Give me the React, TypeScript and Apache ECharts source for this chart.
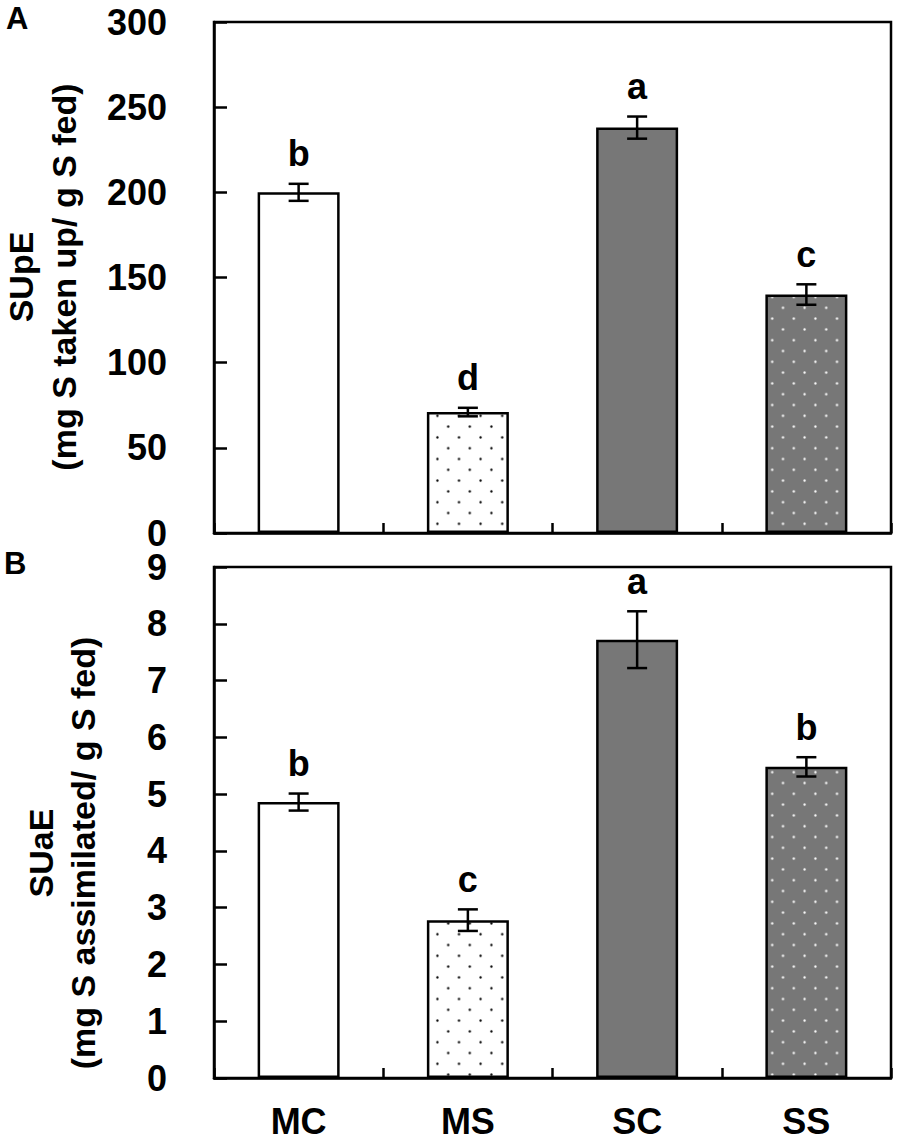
import React, { useEffect, useRef } from "react";
import * as echarts from "echarts";

const categories = ["MC", "MS", "SC", "SS"];

const supeMean = [200, 71, 238, 140];
const supeErr = [5, 2.5, 6.5, 6];
const supeLetters = ["b", "d", "a", "c"];

const suaeMean = [4.86, 2.78, 7.72, 5.48];
const suaeErr = [0.15, 0.19, 0.5, 0.17];
const suaeLetters = ["b", "c", "a", "b"];

const FONT = "'Liberation Sans', Arial, Helvetica, sans-serif";
const LW = 2.5;

function dotPattern(bg: string, dot: string) {
  const s = 21.6;
  const h = s / 2;
  const svg =
    `<svg xmlns="http://www.w3.org/2000/svg" width="${s}" height="${s}">` +
    `<rect width="${s}" height="${s}" fill="${bg}"/>` +
    `<circle cx="${h / 2}" cy="${h / 2}" r="1.15" fill="${dot}"/>` +
    `<circle cx="${h / 2 + h}" cy="${h / 2 + h}" r="1.15" fill="${dot}"/>` +
    `</svg>`;
  return {
    image: "data:image/svg+xml;charset=utf-8," + encodeURIComponent(svg),
    repeat: "repeat",
    imageWidth: s,
    imageHeight: s,
  } as any;
}

const GRAY = "#777777";
const fills = [
  "#ffffff",
  dotPattern("#ffffff", "#000000"),
  GRAY,
  dotPattern(GRAY, "#ffffff"),
];

function barSeries(mean: number[], idx: number) {
  return {
    type: "bar",
    xAxisIndex: idx,
    yAxisIndex: idx,
    barWidth: 82,
    data: mean.map((v, i) => ({
      value: v,
      itemStyle: { color: fills[i], borderColor: "#000", borderWidth: LW },
    })),
    z: 2,
  };
}

function errSeries(mean: number[], err: number[], letters: string[], idx: number) {
  return {
    type: "custom",
    xAxisIndex: idx,
    yAxisIndex: idx,
    z: 5,
    data: mean.map((m, i) => [i, m, err[i]]),
    renderItem: (params: any, api: any) => {
      const i = api.value(0);
      const m = api.value(1);
      const e = api.value(2);
      const top = api.coord([i, m + e]);
      const bot = api.coord([i, m - e]);
      const x = top[0];
      const hw = 10;
      const st = { stroke: "#000", lineWidth: LW };
      return {
        type: "group",
        children: [
          { type: "line", shape: { x1: x, y1: top[1], x2: x, y2: bot[1] }, style: st },
          { type: "line", shape: { x1: x - hw, y1: top[1], x2: x + hw, y2: top[1] }, style: st },
          { type: "line", shape: { x1: x - hw, y1: bot[1], x2: x + hw, y2: bot[1] }, style: st },
          {
            type: "text",
            x: x,
            y: top[1] - 30,
            style: {
              text: letters[params.dataIndex],
              textAlign: "center",
              textVerticalAlign: "middle",
              fontSize: 36,
              fontWeight: "bold",
              fontFamily: FONT,
              fill: "#000",
            },
          },
        ],
      };
    },
  };
}

function xAxisCfg(idx: number, showLabel: boolean) {
  return {
    gridIndex: idx,
    type: "category",
    data: categories,
    boundaryGap: true,
    axisLine: { show: true, lineStyle: { color: "#000", width: LW } },
    axisTick: { show: true, inside: true, length: 10, lineStyle: { color: "#000", width: LW } },
    axisLabel: {
      show: showLabel,
      fontSize: 36,
      fontWeight: "bold",
      color: "#000",
      fontFamily: FONT,
      margin: 25,
    },
    splitLine: { show: false },
  };
}

function yAxisCfg(idx: number, max: number, interval: number) {
  return {
    gridIndex: idx,
    type: "value",
    min: 0,
    max: max,
    interval: interval,
    axisLine: { show: true, lineStyle: { color: "#000", width: LW } },
    axisTick: { show: true, inside: true, length: 13, lineStyle: { color: "#000", width: LW } },
    axisLabel: {
      fontSize: 36,
      fontWeight: "bold",
      color: "#000",
      fontFamily: FONT,
      margin: 47,
    },
    splitLine: { show: false },
  };
}

function rotText(text: string, x: number, y: number, size: number) {
  return {
    type: "text",
    x,
    y,
    rotation: Math.PI / 2,
    style: {
      text,
      textAlign: "center",
      textVerticalAlign: "middle",
      fontSize: size,
      fontWeight: "bold",
      fontFamily: FONT,
      fill: "#000",
    },
  };
}

function plainText(text: string, x: number, y: number, size: number) {
  return {
    type: "text",
    x,
    y,
    style: {
      text,
      textAlign: "left",
      textVerticalAlign: "middle",
      fontSize: size,
      fontWeight: "bold",
      fontFamily: FONT,
      fill: "#000",
    },
  };
}

export default function App() {
  const ref = useRef<HTMLDivElement>(null);
  useEffect(() => {
    if (!ref.current) return;
    const chart = echarts.init(ref.current, undefined, { renderer: "svg" });
    const gridBase = {
      left: 214,
      width: 677,
      height: 511,
      show: true,
      borderColor: "#000",
      borderWidth: LW,
      backgroundColor: "transparent",
      containLabel: false,
    };
    chart.setOption({
      animation: false,
      backgroundColor: "#ffffff",
      textStyle: { fontFamily: FONT },
      grid: [
        { ...gridBase, top: 22 },
        { ...gridBase, top: 567 },
      ],
      xAxis: [xAxisCfg(0, false), xAxisCfg(1, true)],
      yAxis: [yAxisCfg(0, 300, 50), yAxisCfg(1, 9, 1)],
      series: [
        barSeries(supeMean, 0),
        errSeries(supeMean, supeErr, supeLetters, 0),
        barSeries(suaeMean, 1),
        errSeries(suaeMean, suaeErr, suaeLetters, 1),
      ],
      graphic: [
        plainText("A", 6, 18, 31),
        plainText("B", 4, 563, 31),
        rotText("SUpE", 21, 277, 34),
        rotText("(mg S taken up/ g S fed)", 64, 277, 34),
        rotText("SUaE", 41, 853, 34),
        rotText("(mg S assimilated/ g S fed)", 83, 853, 34),
      ],
    });
    return () => chart.dispose();
  }, []);
  return (
    <div
      ref={ref}
      style={{ position: "absolute", left: 0, top: 0, width: 900, height: 1141, background: "#fff" }}
    />
  );
}
